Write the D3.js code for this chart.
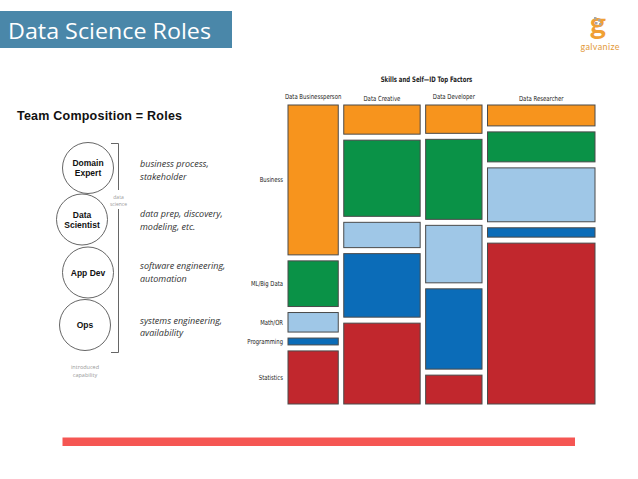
<!DOCTYPE html>
<html>
<head>
<meta charset="utf-8">
<script src="https://cdn.jsdelivr.net/npm/d3@7"></script>
<style>
  body { margin: 0; background: #fff; }
  svg { display: block; }
  .cond { font-family: "Liberation Sans Narrow", "DejaVu Sans Condensed", "Roboto Condensed", sans-serif; font-stretch: condensed; }
</style>
</head>
<body>
<svg id="slide" width="638" height="479"></svg>
<script>
// mosaic data: share of each role, then share of each skill inside a role
const roles = ['Data Businessperson', 'Data Creative', 'Data Developer', 'Data Researcher'];
const skills = ['Business', 'ML/Big Data', 'Math/OR', 'Programming', 'Statistics'];
const roleShare = [17.3, 26.3, 19.4, 37.0];
const businessShare = [54.5, 10.6, 10.3, 7.6];
const mlShare = [16.6, 27.7, 29.1, 10.9];
const mathShare = [7.1, 9.2, 20.9, 19.6];
const programmingShare = [2.5, 23.1, 29.2, 3.4];
const statisticsShare = [19.3, 29.4, 10.5, 58.5];
const skillColors = ['#f7941d', '#0a9247', '#9fc7e7', '#0b6cb8', '#c1272d'];

// left diagram
const teamRoles = [['Domain', 'Expert'], ['Data', 'Scientist'], ['App Dev'], ['Ops']];
const teamDescriptions = [
    ['business process,', 'stakeholder'],
    ['data prep, discovery,', 'modeling, etc.'],
    ['software engineering,', 'automation'],
    ['systems engineering,', 'availability'],
];

const svg = d3.select('#slide');

// squeeze a label horizontally, the condensed face is not installed
function condense(sel, factor) {
    sel.each(function () {
        const w = this.getComputedTextLength();
        d3.select(this)
            .attr('textLength', w * factor)
            .attr('lengthAdjust', 'spacingAndGlyphs');
    });
}

// header box
svg.append('rect')
    .attr('x', 0).attr('y', 11)
    .attr('width', 232).attr('height', 37)
    .attr('fill', '#4a87a9');
svg.append('text')
    .attr('x', 8).attr('y', 39)
    .attr('fill', '#fff')
    .attr('textLength', 203)
    .attr('lengthAdjust', 'spacingAndGlyphs')
    .style('font-family', '"Open Sans", Lato, sans-serif')
    .style('font-size', '21px')
    .text('Data Science Roles');

// logo
const logo = svg.append('g');
logo.append('text')
    .attr('x', 598).attr('y', 34)
    .attr('text-anchor', 'middle')
    .attr('fill', '#f0a034')
    .style('font-family', 'Lato, sans-serif')
    .style('font-weight', 'bold')
    .style('font-size', '31px')
    .text('g');
[[594, 17], [598, 19], [595, 22], [599, 23]].forEach(d => {
    logo.append('rect')
        .attr('x', d[0]).attr('y', d[1])
        .attr('width', 2.5).attr('height', 2.5)
        .attr('fill', '#a8a8a8');
});
logo.append('text')
    .attr('x', 600).attr('y', 50)
    .attr('text-anchor', 'middle')
    .attr('fill', '#e39a3a')
    .attr('textLength', 39)
    .style('font-family', 'Lato, sans-serif')
    .style('font-size', '9px')
    .text('galvanize');

// team composition
const team = svg.append('g');
team.append('text')
    .attr('x', 17).attr('y', 120)
    .attr('fill', '#111')
    .attr('textLength', 165)
    .style('font-family', '"Liberation Sans", Arial, sans-serif')
    .style('font-weight', 'bold')
    .style('font-size', '12.5px')
    .text('Team Composition = Roles');

const circleX = [88, 82, 88, 85];
const circleY = [168, 219.5, 272.5, 325];
teamRoles.forEach((lines, i) => {
    team.append('circle')
        .attr('cx', circleX[i]).attr('cy', circleY[i]).attr('r', 25.5)
        .attr('fill', '#fff')
        .attr('stroke', '#555')
        .attr('stroke-width', 0.9);
    lines.forEach((line, j) => {
        team.append('text')
            .attr('x', circleX[i])
            .attr('y', circleY[i] + 3 + (j - (lines.length - 1) / 2) * 10)
            .attr('text-anchor', 'middle')
            .attr('fill', '#111')
            .style('font-family', '"Liberation Sans", sans-serif')
            .style('font-weight', 'bold')
            .style('font-size', '8.5px')
            .text(line);
    });
});

const descY = [164, 214, 266, 320.5];
teamDescriptions.forEach((lines, i) => {
    lines.forEach((line, j) => {
        team.append('text')
            .attr('x', 140)
            .attr('y', descY[i] + 3 + j * 12.5)
            .attr('fill', '#333')
            .style('font-family', '"Open Sans", sans-serif')
            .style('font-style', 'italic')
            .style('font-size', '9px')
            .text(line);
    });
});

// bracket
const bracket = d3.line();
team.append('path')
    .attr('d', bracket([[111, 143.5], [118.5, 143.5], [118.5, 190]]))
    .attr('fill', 'none').attr('stroke', '#555').attr('stroke-width', 0.9);
team.append('path')
    .attr('d', bracket([[118.5, 209], [118.5, 352.5], [111, 352.5]]))
    .attr('fill', 'none').attr('stroke', '#555').attr('stroke-width', 0.9);
['data', 'science'].forEach((t, j) => {
    team.append('text')
        .attr('x', 118.5).attr('y', 198.5 + j * 7.5)
        .attr('text-anchor', 'middle')
        .attr('fill', '#999')
        .style('font-family', '"Open Sans", sans-serif')
        .style('font-size', '5px')
        .text(t);
});
['introduced', 'capability'].forEach((t, j) => {
    team.append('text')
        .attr('x', 85).attr('y', 369 + j * 7.5)
        .attr('text-anchor', 'middle')
        .attr('fill', '#999')
        .style('font-family', '"Open Sans", sans-serif')
        .style('font-size', '5.5px')
        .text(t);
});

// mosaic
const mosaicLeft = 288, mosaicTop = 105, mosaicWidth = 307, mosaicHeight = 299;
const gapX = 5.5, gapY = 6;
const x = d3.scaleLinear().domain([0, 100]).range([0, mosaicWidth - gapX * (roles.length - 1)]);
const y = d3.scaleLinear().domain([0, 100]).range([0, mosaicHeight - gapY * (skills.length - 1)]);
const skillShares = [businessShare, mlShare, mathShare, programmingShare, statisticsShare];

const roleStart = d3.cumsum([0].concat(roleShare));
const mosaic = svg.append('g');
const cells = [];
roles.forEach((role, i) => {
    const shares = skillShares.map(s => s[i]);
    const start = d3.cumsum([0].concat(shares));
    shares.forEach((v, j) => {
        cells.push({
            role: i, skill: j,
            x0: mosaicLeft + x(roleStart[i]) + i * gapX,
            x1: mosaicLeft + x(roleStart[i + 1]) + i * gapX,
            y0: mosaicTop + y(start[j]) + j * gapY,
            y1: mosaicTop + y(start[j + 1]) + j * gapY,
        });
    });
});

mosaic.selectAll('rect')
    .data(cells)
    .join('rect')
    .attr('x', d => d.x0)
    .attr('y', d => d.y0)
    .attr('width', d => d.x1 - d.x0)
    .attr('height', d => d.y1 - d.y0)
    .attr('fill', d => skillColors[d.skill])
    .attr('stroke', '#4a4a4a')
    .attr('stroke-width', 1);

mosaic.append('text')
    .attr('class', 'cond')
    .attr('x', 426.5).attr('y', 81.5)
    .attr('text-anchor', 'middle')
    .attr('fill', '#222')
    .style('font-size', '7.5px')
    .style('font-weight', 'bold')
    .text('Skills and Self\u2014ID Top Factors')
    .call(condense, 0.8);

const headerY = [99, 100.5, 99, 100.5];
roles.forEach((role, i) => {
    mosaic.append('text')
        .attr('class', 'cond')
        .attr('x', mosaicLeft + x((roleStart[i] + roleStart[i + 1]) / 2) + i * gapX)
        .attr('y', headerY[i])
        .attr('text-anchor', 'middle')
        .attr('fill', '#222')
        .style('font-size', '7px')
        .text(role)
        .call(condense, 0.85);
});

cells.filter(d => d.role === 0).forEach(d => {
    mosaic.append('text')
        .attr('class', 'cond')
        .attr('x', 283)
        .attr('y', (d.y0 + d.y1) / 2 + 2.5)
        .attr('text-anchor', 'end')
        .attr('fill', '#222')
        .style('font-size', '7px')
        .text(skills[d.skill])
        .call(condense, 0.84);
});

// bottom accent bar
svg.append('rect')
    .attr('x', 62.5).attr('y', 437.5)
    .attr('width', 512.5).attr('height', 8.5)
    .attr('fill', '#f55653');
</script>
</body>
</html>
